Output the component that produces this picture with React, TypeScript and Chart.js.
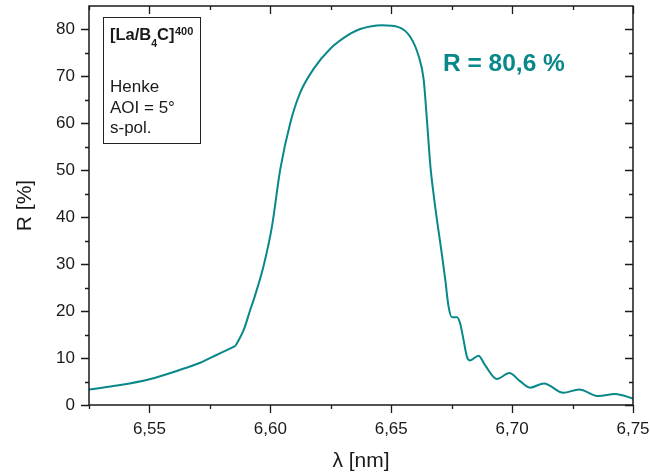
import React, { useEffect, useRef } from 'react';
import { Chart, registerables } from 'chart.js';

Chart.register(...registerables);

// ---- data ----
const wavelengths = [
  6.525, 6.5373, 6.55, 6.5621, 6.571, 6.575, 6.58, 6.5856, 6.589, 6.5917,
  6.5931, 6.5972, 6.6007, 6.6041, 6.6083, 6.6124, 6.6179, 6.6248, 6.6331, 6.6372,
  6.6462, 6.653, 6.6579, 6.6613, 6.6634, 6.6648, 6.6662, 6.6675, 6.6689, 6.6709,
  6.6723, 6.6737, 6.6751, 6.6772, 6.6785, 6.6799, 6.6813, 6.6826, 6.6861, 6.6888,
  6.6937, 6.6989, 6.703, 6.7074, 6.7132, 6.7212, 6.7277, 6.7357, 6.7426, 6.75,
];
const reflectance = [
  3.3, 4.2, 5.5, 7.4, 9.0, 10.0, 11.2, 12.6, 16.0, 20.3,
  22.4, 29.6, 38.1, 50.2, 60.2, 66.6, 71.6, 75.9, 79.1, 80.1,
  80.9, 80.5, 78.4, 74.4, 69.4, 60.5, 50.9, 45.0, 39.5, 32.3,
  26.9, 21.0, 18.7, 18.7, 17.4, 13.9, 10.3, 9.5, 10.5, 8.5,
  5.55, 6.8, 5.2, 3.7, 4.6, 2.6, 3.3, 1.9, 2.35, 1.4,
];
// wavelength of the sharp kink where the curve's slope changes abruptly
const kinkWavelength = 6.5856;

const xMajorTicks = [6.55, 6.6, 6.65, 6.7, 6.75];
const xMinorTicks = [6.525, 6.575, 6.625, 6.675, 6.725];
const yMajorTicks = [0, 10, 20, 30, 40, 50, 60, 70, 80];
const yMinorTicks = [5, 15, 25, 35, 45, 55, 65, 75];
const xRange = [6.525, 6.75];
const yRange = [0, 85];

const annotationText = 'R = 80,6 %';
const boxTitleMain = '[La/B';
const boxTitleSub = '4';
const boxTitleRest = 'C]';
const boxTitleSup = '400';
const boxLines = ['Henke', 'AOI = 5°', 's-pol.'];

const TEAL = '#088888';
const INK = '#1a1a1a';
const FONT = '"Liberation Sans", Arial, Helvetica, sans-serif';

const framePlugin = {
  id: 'frameTicks',
  afterDraw(chart: any) {
    const { ctx, chartArea: a, scales } = chart;
    const xs = scales.x;
    const ys = scales.y;
    ctx.save();
    ctx.strokeStyle = INK;
    ctx.lineWidth = 1.5;
    ctx.strokeRect(a.left, a.top, a.right - a.left, a.bottom - a.top);
    ctx.lineWidth = 1.3;
    ctx.beginPath();
    const MAJ = 8;
    const MIN = 4;
    xMajorTicks.forEach((v) => {
      const p = Math.round(xs.getPixelForValue(v)) + 0.5;
      ctx.moveTo(p, a.bottom); ctx.lineTo(p, a.bottom + MAJ);
      ctx.moveTo(p, a.top); ctx.lineTo(p, a.top + MAJ);
    });
    xMinorTicks.forEach((v) => {
      const p = Math.round(xs.getPixelForValue(v)) + 0.5;
      ctx.moveTo(p, a.bottom); ctx.lineTo(p, a.bottom + MIN);
      ctx.moveTo(p, a.top); ctx.lineTo(p, a.top + MIN);
    });
    yMajorTicks.forEach((v) => {
      const p = Math.round(ys.getPixelForValue(v)) + 0.5;
      ctx.moveTo(a.left, p); ctx.lineTo(a.left - MAJ, p);
      ctx.moveTo(a.right, p); ctx.lineTo(a.right - MAJ, p);
    });
    yMinorTicks.forEach((v) => {
      const p = Math.round(ys.getPixelForValue(v)) + 0.5;
      ctx.moveTo(a.left, p); ctx.lineTo(a.left - MIN, p);
      ctx.moveTo(a.right, p); ctx.lineTo(a.right - MIN, p);
    });
    ctx.stroke();

    // info box
    const bx = 103.5, by = 17.5, bw = 97, bh = 126;
    ctx.fillStyle = '#ffffff';
    ctx.fillRect(bx, by, bw, bh);
    ctx.strokeStyle = '#222';
    ctx.lineWidth = 1;
    ctx.strokeRect(bx, by, bw, bh);

    ctx.fillStyle = INK;
    ctx.textBaseline = 'alphabetic';
    ctx.textAlign = 'left';
    let tx = 110;
    const tb = 40;
    ctx.font = `bold 16.5px ${FONT}`;
    ctx.fillText(boxTitleMain, tx, tb);
    tx += ctx.measureText(boxTitleMain).width;
    ctx.font = `bold 10.5px ${FONT}`;
    ctx.fillText(boxTitleSub, tx, tb + 7);
    tx += ctx.measureText(boxTitleSub).width;
    ctx.font = `bold 16.5px ${FONT}`;
    ctx.fillText(boxTitleRest, tx, tb);
    tx += ctx.measureText(boxTitleRest).width + 0.5;
    ctx.font = `bold 11px ${FONT}`;
    ctx.fillText(boxTitleSup, tx, tb - 5);

    ctx.font = `17px ${FONT}`;
    boxLines.forEach((line, i) => {
      ctx.fillText(line, 110, 92 + i * 20.5);
    });

    ctx.fillStyle = TEAL;
    ctx.font = `bold 24.5px ${FONT}`;
    ctx.fillText(annotationText, 443, 70.5);
    ctx.restore();
  },
};

export default function App() {
  const canvasRef = useRef<HTMLCanvasElement | null>(null);

  useEffect(() => {
    const canvas = canvasRef.current;
    if (!canvas) return;
    const points = wavelengths.map((w, i) => ({ x: w, y: reflectance[i] }));
    const lowPart = points.filter((p) => p.x <= kinkWavelength);
    const highPart = points.filter((p) => p.x >= kinkWavelength);
    const lineStyle = {
      borderColor: TEAL,
      borderWidth: 2,
      pointRadius: 0,
      fill: false,
      cubicInterpolationMode: 'monotone',
    };
    const chart = new Chart(canvas, {
      type: 'line',
      data: {
        datasets: [
          { data: lowPart, ...lineStyle },
          { data: highPart, ...lineStyle },
        ],
      },
      options: {
        animation: false,
        responsive: false,
        maintainAspectRatio: false,
        events: [],
        layout: { padding: { top: 6, right: 17, left: 0, bottom: 0 } },
        plugins: { legend: { display: false }, tooltip: { enabled: false } },
        scales: {
          x: {
            type: 'linear',
            min: xRange[0],
            max: xRange[1],
            grid: { display: false, drawTicks: false },
            border: { display: false },
            afterBuildTicks: (s: any) => {
              s.ticks = xMajorTicks.map((v) => ({ value: v }));
            },
            afterFit: (s: any) => {
              s.height = 69;
              s.paddingLeft = 0;
              s.paddingRight = 0;
            },
            ticks: {
              autoSkip: false,
              maxRotation: 0,
              padding: 14,
              color: INK,
              font: { family: FONT, size: 17 },
              callback: (v: any) => Number(v).toFixed(2).replace('.', ','),
            },
            title: {
              display: true,
              text: 'λ [nm]',
              color: INK,
              font: { family: FONT, size: 21 },
              padding: { top: 0, bottom: 0 },
            },
          },
          y: {
            type: 'linear',
            min: yRange[0],
            max: yRange[1],
            grid: { display: false, drawTicks: false },
            border: { display: false },
            afterBuildTicks: (s: any) => {
              s.ticks = yMajorTicks.map((v) => ({ value: v }));
            },
            afterFit: (s: any) => {
              s.width = 89;
              s.paddingTop = 0;
              s.paddingBottom = 0;
            },
            ticks: {
              autoSkip: false,
              padding: 14,
              color: INK,
              font: { family: FONT, size: 17 },
              callback: (v: any) => String(v),
            },
            title: {
              display: true,
              text: 'R [%]',
              color: INK,
              font: { family: FONT, size: 21 },
              padding: { top: 13, bottom: 0 },
            },
          },
        },
      },
      plugins: [framePlugin],
    } as any);
    return () => chart.destroy();
  }, []);

  return (
    <div style={{ position: 'absolute', left: 0, top: 0, width: 650, height: 474 }}>
      <canvas ref={canvasRef} width={650} height={474} style={{ width: 650, height: 474, display: 'block' }} />
    </div>
  );
}
